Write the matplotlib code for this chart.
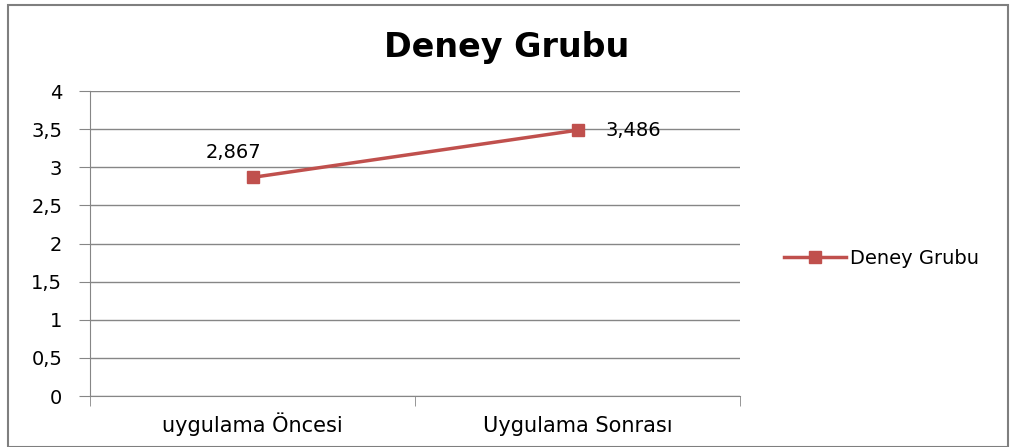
import matplotlib
matplotlib.use("Agg")
import matplotlib.pyplot as plt
from matplotlib.patches import Rectangle

categories = ["uygulama Öncesi", "Uygulama Sonrası"]
values = [2.867, 3.486]
value_labels = ["2,867", "3,486"]
y_ticks = [0, 0.5, 1, 1.5, 2, 2.5, 3, 3.5, 4]
y_tick_labels = ["0", "0,5", "1", "1,5", "2", "2,5", "3", "3,5", "4"]
series_name = "Deney Grubu"

LINE_COLOR = "#C0504D"
GRID_COLOR = "#868686"

plt.rcParams["font.family"] = ["DejaVu Sans"]

fig = plt.figure(figsize=(10.11, 4.47), dpi=100)
fig.patches.append(Rectangle((8 / 1011, 0), 1000 / 1011, 442 / 447, transform=fig.transFigure,
                             fill=False, edgecolor="#7f7f7f", linewidth=1.5))

ax = fig.add_axes([90 / 1011, 1 - 396 / 447, 650 / 1011, 305 / 447])
x = list(range(len(categories)))
ax.plot(x, values, color=LINE_COLOR, linewidth=2.5, marker="s", markersize=9,
        markerfacecolor=LINE_COLOR, markeredgecolor=LINE_COLOR, label=series_name)

ax.annotate(value_labels[0], (x[0], values[0]), xytext=(-14, 18), textcoords="offset points",
            ha="center", va="center", fontsize=14)
ax.annotate(value_labels[1], (x[1], values[1]), xytext=(40, 0), textcoords="offset points",
            ha="center", va="center", fontsize=14)

ax.set_xlim(-0.5, len(categories) - 0.5)
ax.set_ylim(0, 4)
ax.set_yticks(y_ticks)
ax.set_yticklabels(y_tick_labels, fontsize=14)
ax.set_xticks(x)
ax.set_xticklabels(categories, fontsize=15)
for lbl in ax.get_xticklabels():
    lbl.set_verticalalignment("baseline")
ax.set_xticks([i - 0.5 for i in range(len(categories) + 1)], minor=True)
ax.tick_params(axis="x", which="major", length=0, pad=26)
ax.tick_params(axis="x", which="minor", length=7, color=GRID_COLOR, direction="out")
ax.tick_params(axis="y", length=8, color=GRID_COLOR, pad=12)
ax.yaxis.grid(True, color=GRID_COLOR, linewidth=1)
ax.set_axisbelow(True)
for side in ["top", "right"]:
    ax.spines[side].set_visible(False)
ax.spines["left"].set_color(GRID_COLOR)
ax.spines["bottom"].set_color(GRID_COLOR)

fig.text(507 / 1011, 1 - 47 / 447, series_name, ha="center", va="center",
         fontsize=24, fontweight="bold")

ax.legend(loc="center left", bbox_to_anchor=(1.04, 0.45), frameon=False, fontsize=14,
          handlelength=3.2, handletextpad=0.2)

fig.savefig("out.png", dpi=100)
